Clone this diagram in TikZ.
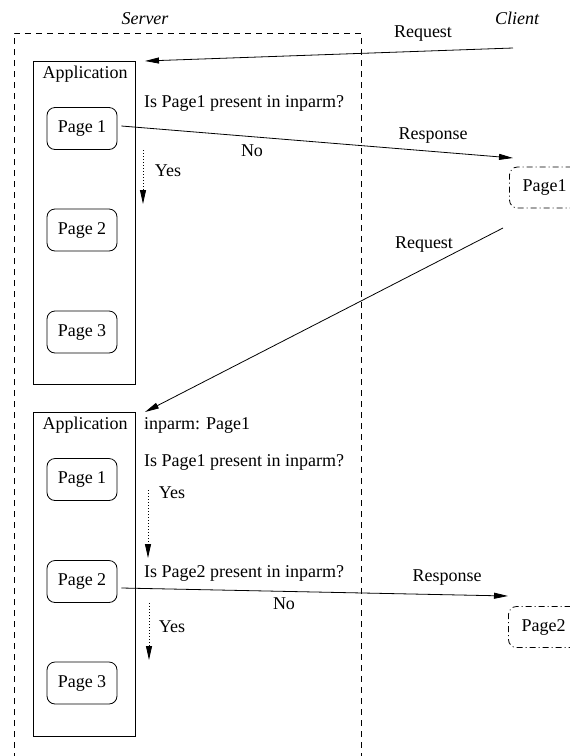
\documentclass[tikz,border=0pt]{standalone}
\usepackage{fontspec}
\setmainfont{Liberation Serif}
\usetikzlibrary{arrows.meta}
\begin{document}
\begin{tikzpicture}[x=1pt,y=-1pt,
  every node/.style={inner sep=0pt,font=\fontsize{18}{21}\selectfont},
  txt/.style={text height=12.5pt,text depth=4pt},
  appbox/.style={draw,line width=0.8pt,minimum width=102pt},
  pagebox/.style={draw,line width=0.8pt,rounded corners=8pt,minimum width=70pt,minimum height=42pt},
  clientbox/.style={draw,line width=0.8pt,rounded corners=8pt,minimum width=70pt,minimum height=41pt,
    dash pattern=on 6pt off 3pt on 1pt off 3pt},
  msg/.style={line width=0.8pt,-{Triangle[length=14pt,width=6pt]}},
  flow/.style={line width=0.8pt,dash pattern=on 1pt off 2pt,-{Triangle[length=14pt,width=6pt]}},
  zone/.style={line width=0.8pt,dash pattern=on 6pt off 5pt}]
\useasboundingbox (0,0) rectangle (570,756);

% server zone (open at the bottom)
\draw[zone] (14,770) -- (14,33) -- (361,33) -- (361,770);
\node[txt,font=\fontsize{18}{21}\selectfont\itshape] (server) at (145,20) {Server};
\node[txt,font=\fontsize{18}{21}\selectfont\itshape] (client) at (517,20) {Client};

% first request cycle
\node[appbox,minimum height=323pt] (app1) at (84,222.5) {};
\node[txt] (app1t) at (85,74) {Application};
\node[pagebox,txt] (p1a) at (82,128.5) {Page 1};
\node[pagebox,txt] (p2a) at (82,230) {Page 2};
\node[pagebox,txt] (p3a) at (82,332) {Page 3};
\node[clientbox,txt] (cp1) at (544.5,187.5) {Page1};

\coordinate (req1s) at (513,48);
\coordinate (req1e) at (145,61);
\coordinate (res1e) at (513,158);
\draw[msg] (req1s) -- (req1e);
\draw[msg] ([xshift=4pt,yshift=2.5pt]p1a.east) -- (res1e);
\draw[flow] (143,150) -- (143,204);

\node[txt] (lreq1) at (423,33) {Request};
\node[txt,anchor=west] (q1) at (144,103) {Is Page1 present in inparm?};
\node[txt] (lres1) at (433,135) {Response};
\node[txt] (lno1) at (252,152) {No};
\node[txt] (lyes1) at (168,172) {Yes};

% second request cycle
\coordinate (req2s) at (503,228);
\coordinate (req2e) at (145,412);
\draw[msg] (req2s) -- (req2e);
\node[txt] (lreq2) at (424,244) {Request};

\node[appbox,minimum height=324pt] (app2) at (84,574) {};
\node[txt] (app2t) at (85,425) {Application};
\node[pagebox,txt] (p1b) at (82,479.5) {Page 1};
\node[pagebox,txt] (p2b) at (82,581.5) {Page 2};
\node[pagebox,txt] (p3b) at (82,683) {Page 3};
\node[clientbox,txt] (cp2) at (543.5,627) {Page2};

\node[txt,anchor=west] (inp) at (144,425) {inparm: Page1};
\node[txt,anchor=west] (q2) at (144,462) {Is Page1 present in inparm?};
\draw[flow] (148,490) -- (148,558);
\node[txt] (lyes2) at (172,494) {Yes};
\node[txt,anchor=west] (q3) at (144,573) {Is Page2 present in inparm?};
\coordinate (res2e) at (508,596);
\draw[msg] ([xshift=4pt,yshift=-6.5pt]p2b.east) -- (res2e);
\node[txt] (lres2) at (447,577) {Response};
\node[txt] (lno2) at (284,605) {No};
\draw[flow] (149,603) -- (149,660);
\node[txt] (lyes3) at (172,628) {Yes};
\end{tikzpicture}
\end{document}
